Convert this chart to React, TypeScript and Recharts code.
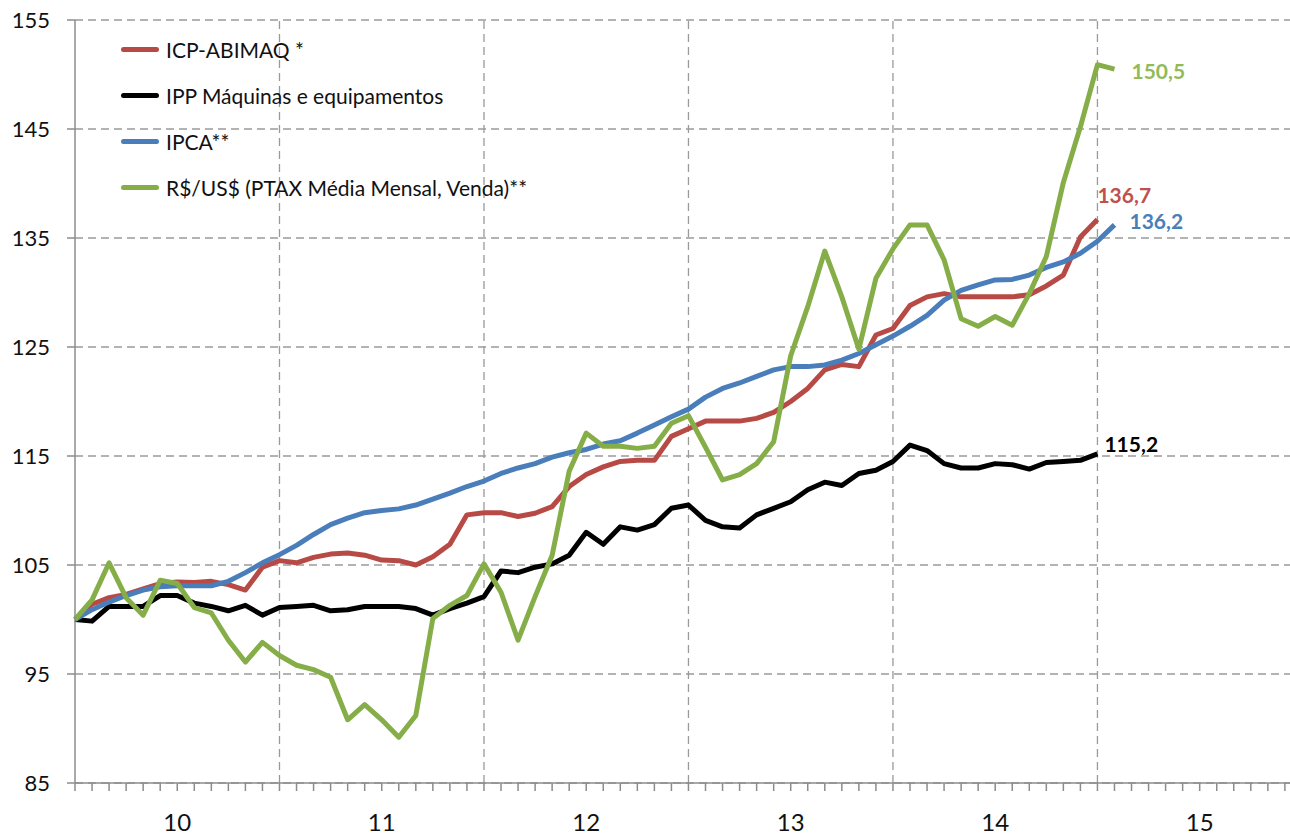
import React from 'react';
import { LineChart, Line, XAxis, YAxis, CartesianGrid, ReferenceLine, Legend, LabelList } from 'recharts';

const FONT = "Lato, 'Liberation Sans', sans-serif";

// month index 0 = Dec/2009 (base 100)
const icpAbimaq = [
  100, 101.4, 102.0, 102.3, 102.8, 103.3, 103.45, 103.4, 103.5, 103.2, 102.7, 104.8,
  105.4, 105.2, 105.7, 106.0, 106.1, 105.9, 105.45, 105.4, 105.0, 105.75, 106.9, 109.6,
  109.8, 109.8, 109.45, 109.75, 110.35, 112.2, 113.3, 114.0, 114.5, 114.6, 114.6, 116.8,
  117.5, 118.2, 118.2, 118.2, 118.45, 119.0, 120.0, 121.2, 122.9, 123.4, 123.2, 126.1,
  126.7, 128.8, 129.6, 129.9, 129.6, 129.6, 129.6, 129.6, 129.8, 130.6, 131.6, 135.1,
  136.7,
];
const ippMaquinas = [
  100, 99.85, 101.2, 101.2, 101.2, 102.2, 102.2, 101.5, 101.2, 100.8, 101.3, 100.4,
  101.1, 101.2, 101.3, 100.8, 100.9, 101.2, 101.2, 101.2, 101.0, 100.4, 101.0, 101.5,
  102.1, 104.45, 104.3, 104.8, 105.1, 105.9, 108.0, 106.9, 108.5, 108.2, 108.7, 110.2,
  110.5, 109.1, 108.5, 108.4, 109.6, 110.2, 110.8, 111.9, 112.6, 112.3, 113.4, 113.7,
  114.5, 116.0, 115.5, 114.3, 113.9, 113.9, 114.3, 114.2, 113.8, 114.4, 114.5, 114.6,
  115.2,
];
const ipca = [
  100, 100.9, 101.6, 102.2, 102.7, 103.0, 103.1, 103.1, 103.1, 103.5, 104.3, 105.2,
  105.95, 106.8, 107.8, 108.7, 109.3, 109.8, 110.0, 110.15, 110.5, 111.05, 111.6, 112.2,
  112.7, 113.4, 113.9, 114.3, 114.9, 115.3, 115.6, 116.1, 116.4, 117.1, 117.85, 118.6,
  119.3, 120.4, 121.2, 121.7, 122.3, 122.9, 123.2, 123.2, 123.35, 123.8, 124.4, 125.2,
  126.0, 126.9, 127.9, 129.3, 130.2, 130.7, 131.15, 131.2, 131.6, 132.3, 132.8, 133.6,
  134.7, 136.2,
];
const realDolar = [
  100, 101.8, 105.2, 102.0, 100.4, 103.6, 103.3, 101.1, 100.6, 98.1, 96.1, 97.9,
  96.7, 95.8, 95.4, 94.7, 90.8, 92.2, 90.8, 89.2, 91.2, 100.1, 101.3, 102.2,
  105.1, 102.5, 98.1, 102.1, 105.9, 113.6, 117.1, 115.9, 115.9, 115.7, 115.9, 118.0,
  118.7, 115.8, 112.8, 113.3, 114.3, 116.3, 124.2, 128.7, 133.8, 129.6, 124.8, 131.3,
  134.0, 136.2, 136.2, 133.0, 127.6, 126.9, 127.8, 127.0, 129.9, 133.3, 140.1, 145.2,
  150.9, 150.5,
];

const yearLabels = ['10', '11', '12', '13', '14', '15'];
const yTicks = [85, 95, 105, 115, 125, 135, 145, 155];
const yearBounds = [12, 24, 36, 48, 60];
const monthTicks = Array.from({ length: 72 }, (_, i) => i);

const labelTexts = { icp: '136,7', ipp: '115,2', ipca: '136,2', usd: '150,5' };

const series = [
  { key: 'icp', name: 'ICP-ABIMAQ *', color: '#B84A46', label: '#C0504D', values: icpAbimaq, dx: 0, dy: -24, anchor: 'start' },
  { key: 'ipp', name: 'IPP Máquinas e equipamentos', color: '#000000', label: '#000000', values: ippMaquinas, dx: 7, dy: -9, anchor: 'start' },
  { key: 'ipca', name: 'IPCA**', color: '#4A7EBB', label: '#4A7EBB', values: ipca, dx: 15, dy: -3, anchor: 'start' },
  { key: 'usd', name: 'R$/US$ (PTAX Média Mensal, Venda)**', color: '#86AE48', label: '#92BA56', values: realDolar, dx: 17, dy: 3, anchor: 'start' },
];

const data = ipca.map((_, i) => ({
  m: i,
  icp: icpAbimaq[i],
  ipp: ippMaquinas[i],
  ipca: ipca[i],
  usd: realDolar[i],
}));

const xTickFormatter = (v: number) => {
  if (v % 12 === 6) {
    const idx = Math.floor(v / 12);
    return yearLabels[idx] ?? '';
  }
  return '';
};

const LegendContent = () => (
  <div style={{ fontFamily: FONT, fontSize: 21, color: '#111' }}>
    {series.map((s) => (
      <div key={s.key} style={{ display: 'flex', alignItems: 'center', height: 46, whiteSpace: 'nowrap' }}>
        <span style={{ display: 'inline-block', width: 38, height: 5, background: s.color, borderRadius: 3, marginRight: 7 }} />
        <span>{s.name}</span>
      </div>
    ))}
  </div>
);

const makeLabel = (s: any) => (props: any) => {
  const { x, y, index } = props;
  if (index !== s.values.length - 1) return null;
  return (
    <text
      x={x + s.dx}
      y={y + s.dy}
      dy="0.35em"
      textAnchor={s.anchor}
      fill={s.label}
      fontFamily={FONT}
      fontWeight={700}
      fontSize={21}
    >
      {(labelTexts as any)[s.key]}
    </text>
  );
};

export default function App() {
  return (
    <div style={{ position: 'absolute', left: 0, top: 0, background: '#fff' }}>
      <LineChart width={1290} height={835} data={data} margin={{ top: 20, right: 0, bottom: 0, left: 0 }}>
        <CartesianGrid vertical={false} stroke="#9a9a9a" strokeDasharray="8 5" strokeWidth={1.3} />
        {yearBounds.map((b) => (
          <ReferenceLine key={b} x={b} stroke="#9a9a9a" strokeDasharray="8 5" strokeWidth={1.3} />
        ))}
        <XAxis
          dataKey="m"
          type="number"
          domain={[0, 71.3]}
          ticks={monthTicks}
          interval={0}
          tickFormatter={xTickFormatter}
          height={52}
          tickSize={8}
          tickMargin={23}
          stroke="#8c8c8c"
          strokeWidth={1.5}
          tick={{ fontSize: 24, fill: '#111', fontFamily: FONT }}
        />
        <YAxis
          type="number"
          domain={[85, 155]}
          ticks={yTicks}
          interval={0}
          width={75}
          tickSize={8}
          tickMargin={17}
          stroke="#8c8c8c"
          strokeWidth={1.5}
          tick={{ fontSize: 22, fill: '#111', fontFamily: FONT }}
        />
        <Legend
          layout="vertical"
          align="center"
          verticalAlign="middle"
          content={<LegendContent />}
          wrapperStyle={{ left: 121, top: 26, width: 600 }}
        />
        {series.map((s) => (
          <Line
            key={s.key}
            type="linear"
            dataKey={s.key}
            name={s.name}
            stroke={s.color}
            strokeWidth={5}
            dot={false}
            activeDot={false}
            strokeLinejoin="round"
            isAnimationActive={false}
          >
            <LabelList dataKey={s.key} content={makeLabel(s)} />
          </Line>
        ))}
      </LineChart>
    </div>
  );
}
